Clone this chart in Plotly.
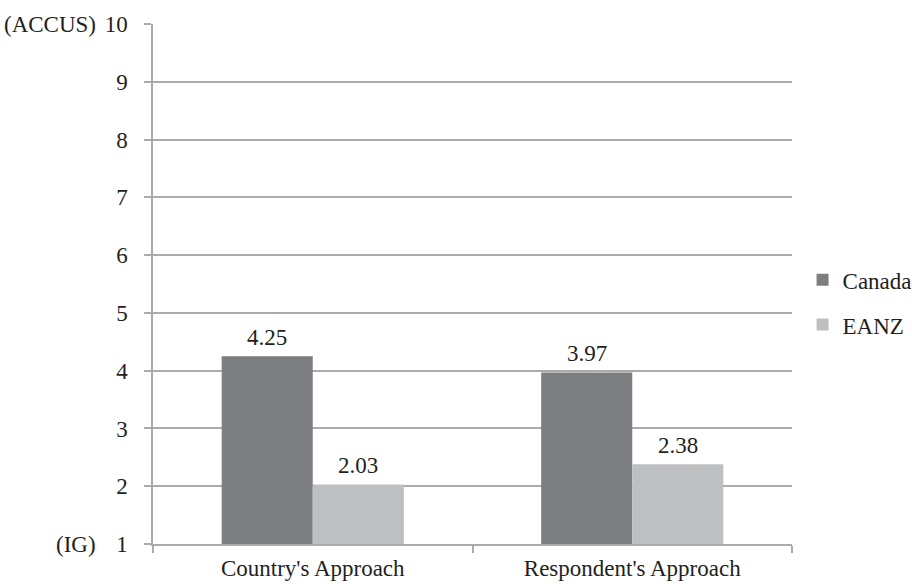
import plotly.graph_objects as go

# Scores on a 1 (IG) to 10 (ACCUS) scale
categories = ["Country's Approach", "Respondent's Approach"]
canada = [4.25, 3.97]
eanz = [2.03, 2.38]
y_ticks = list(range(1, 11))

bar_w = 0.285
positions = list(range(len(categories)))

FONT = "Liberation Serif, Times New Roman, serif"
FS = 23
TEXT = "#231f20"
GRID = "#ababab"

fig = go.Figure()
fig.add_trace(go.Bar(
    name="Canada", x=positions, y=canada, width=bar_w, offset=-bar_w,
    marker=dict(color="#7d7e82", line=dict(width=0)), legendgroup="a",
))
fig.add_trace(go.Bar(
    name="EANZ", x=positions, y=eanz, width=bar_w, offset=0,
    marker=dict(color="#bebfc1", line=dict(width=0)), legendgroup="b",
))

annotations = []
for i, (c, e) in enumerate(zip(canada, eanz)):
    for val, xc in ((c, i - bar_w / 2), (e, i + bar_w / 2)):
        annotations.append(dict(
            x=xc, y=val, xref="x", yref="y", text=f"{val:.2f}",
            showarrow=False, yanchor="bottom", yshift=4,
            font=dict(family=FONT, size=FS, color=TEXT),
        ))

# end-of-scale captions beside the y tick labels
for label, yv in (("(ACCUS)", 10), ("(IG)", 1)):
    annotations.append(dict(
        x=-0.086, y=yv, xref="paper", yref="y", text=label,
        showarrow=False, xanchor="right", yanchor="middle",
        font=dict(family=FONT, size=FS, color=TEXT),
    ))

fig.update_layout(
    width=912, height=584,
    margin=dict(l=153, r=120, t=24, b=40, autoexpand=False),
    paper_bgcolor="white", plot_bgcolor="white",
    font=dict(family=FONT, size=FS, color=TEXT),
    barmode="overlay",
    showlegend=True,
    legend=dict(
        xref="container", x=0.88, y=0.465, xanchor="left", yanchor="middle",
        font=dict(family=FONT, size=FS, color=TEXT),
        traceorder="grouped", tracegroupgap=12,
        bgcolor="rgba(0,0,0,0)",
    ),
    annotations=annotations,
)

fig.update_xaxes(
    range=[-0.5, len(categories) - 0.5],
    tickmode="array", tickvals=positions, ticktext=categories,
    ticks="", showgrid=False, zeroline=False,
    ticklabelstandoff=3,
    showline=True, linecolor=GRID, linewidth=1.5,
    minor=dict(tickmode="array", tickvals=[-0.5, 0.5, 1.5],
               ticks="outside", ticklen=7, tickcolor=GRID, tickwidth=1.5,
               showgrid=False),
    tickfont=dict(family=FONT, size=FS, color=TEXT),
)
fig.update_yaxes(
    range=[1, 10], tickmode="array", tickvals=y_ticks,
    ticks="outside", ticklen=7, tickcolor=GRID, tickwidth=1.5,
    ticklabelstandoff=12,
    showgrid=True, gridcolor=GRID, gridwidth=1.5,
    zeroline=False, showline=True, linecolor=GRID, linewidth=1.5,
    tickfont=dict(family=FONT, size=FS, color=TEXT),
)

fig.write_html("out.html")
